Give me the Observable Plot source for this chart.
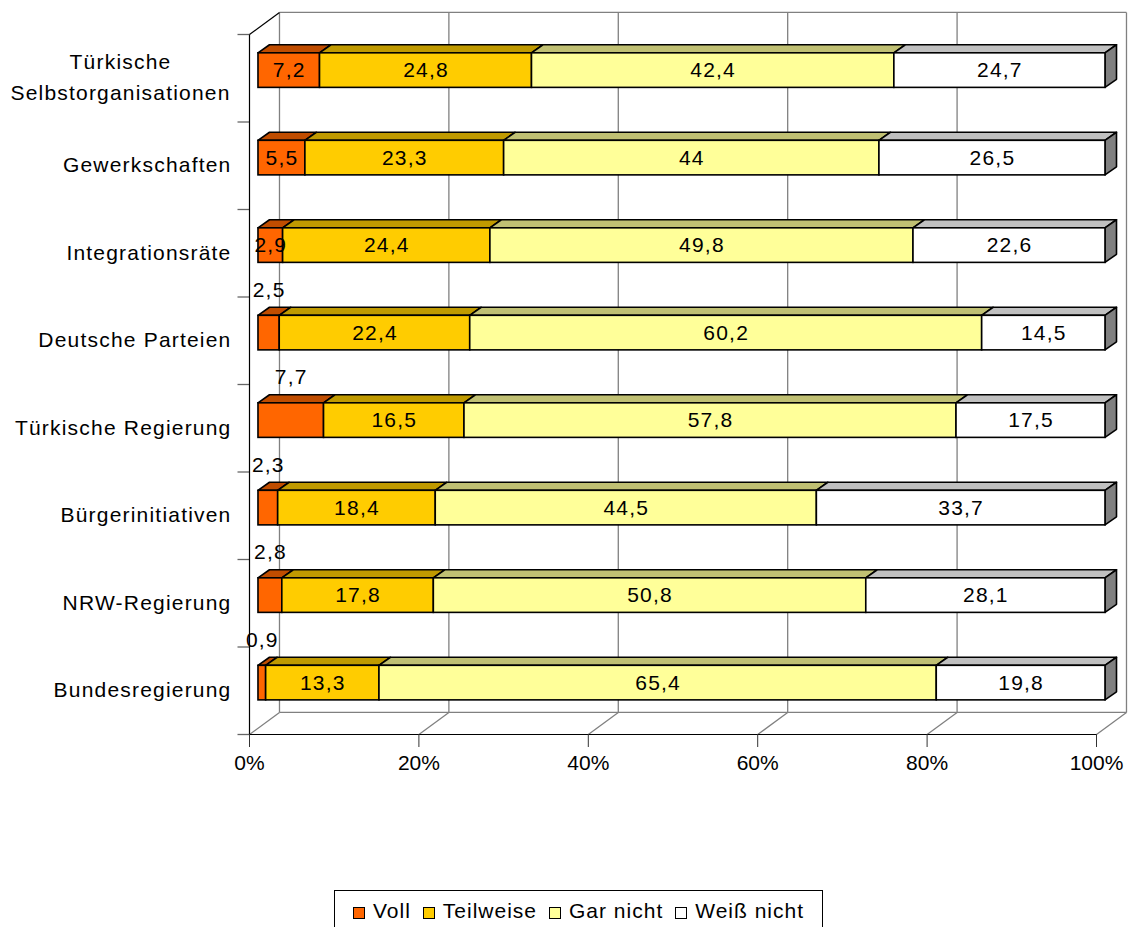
<!DOCTYPE html>
<html>
<head>
<meta charset="utf-8">
<script src="https://cdn.jsdelivr.net/npm/d3@7"></script>
<script src="https://cdn.jsdelivr.net/npm/@observablehq/plot@0.6"></script>
<style>
  body { margin: 0; background: #fff; font-family: "Liberation Sans", Arial, sans-serif; }
  #chart svg { display: block; }
  #chart svg text { letter-spacing: 1.2px; }
  #chart svg g[aria-label="x-axis tick label"] text { letter-spacing: 0; }
  #legend {
    position: absolute; left: 334px; top: 890px; width: 487px; height: 40px;
    border: 1px solid #000; display: flex; align-items: center; justify-content: center;
    font-size: 21px; letter-spacing: 1px; color: #000; box-sizing: content-box;
  }
  #legend .item { display: flex; align-items: center; margin: 0 6px; white-space: nowrap; }
  #legend .sw { width: 10px; height: 10px; border: 1px solid #000; margin-right: 8px; margin-top: 3px; }
</style>
</head>
<body>
<div id="chart"></div>
<div id="legend"></div>
<script>
// ---- data ----
const categories = [
  "Türkische\nSelbstorganisationen",
  "Gewerkschaften",
  "Integrationsräte",
  "Deutsche Parteien",
  "Türkische Regierung",
  "Bürgerinitiativen",
  "NRW-Regierung",
  "Bundesregierung"
];
const voll       = [7.2, 5.5, 2.9, 2.5, 7.7, 2.3, 2.8, 0.9];
const teilweise  = [24.8, 23.3, 24.4, 22.4, 16.5, 18.4, 17.8, 13.3];
const garNicht   = [42.4, 44, 49.8, 60.2, 57.8, 44.5, 50.8, 65.4];
const weissNicht = [24.7, 26.5, 22.6, 14.5, 17.5, 33.7, 28.1, 19.8];
const seriesNames = ["Voll", "Teilweise", "Gar nicht", "Weiß nicht"];
const xTicks = [0, 20, 40, 60, 80, 100];
// Voll labels that the original places above the bar
const vollLabelAbove = ["Deutsche Parteien", "Türkische Regierung", "Bürgerinitiativen", "NRW-Regierung", "Bundesregierung"];

// ---- styles ----
const frontColors = ["#FF6600", "#FFCC00", "#FFFF99", "#FFFFFF"];
const topColors   = ["#C04D00", "#C09A00", "#C0C073", "#C0C0C0"];
const sideColor = "#808080";
const wallColor = "#808080";

// 3D geometry (in scale units)
const BX = 1.06, DDX = 1.36, DDY = 0.092;   // bar front offset and bar depth
const WDX = 3.54, WDY = 0.252;              // wall depth
const FT = 0.215, FB = 0.61;                // bar front face top/bottom within row
const TICKLEN = 12 / 8.47;

// ---- stacking (100% normalized) ----
const seriesValues = [voll, teilweise, garNicht, weissNicht];
const segs = [];
categories.forEach((c, i) => {
  const vals = seriesValues.map(s => s[i]);
  const total = d3.sum(vals);
  let acc = 0;
  vals.forEach((v, k) => {
    const x1 = acc / total * 100; acc += v; const x2 = acc / total * 100;
    segs.push({cat: c, i, k, value: v, x1, x2});
  });
});
const fmt = v => String(v).replace(".", ",");

const topPts = segs.flatMap(s => [
  {id: s.i + "-" + s.k, k: s.k, y: s.i + FT, x1: s.x1 + BX, x2: s.x2 + BX},
  {id: s.i + "-" + s.k, k: s.k, y: s.i + FT - DDY, x1: s.x1 + BX + DDX, x2: s.x2 + BX + DDX}
]);
const sidePts = categories.flatMap((c, i) => [
  {i, x: 100 + BX, y1: i + FB, y2: i + FT},
  {i, x: 100 + BX + DDX, y1: i + FB - DDY, y2: i + FT - DDY}
]);

const isAbove = s => s.k === 0 && vollLabelAbove.includes(s.cat);
const insideLabels = segs.filter(s => !isAbove(s));
const aboveLabels = segs.filter(isAbove);

const wallLines = [
  ...xTicks.map(t => ({x1: t + WDX, y1: -WDY, x2: t + WDX, y2: 8 - WDY})),
  {x1: WDX, y1: -WDY, x2: 100 + WDX, y2: -WDY},
  {x1: WDX, y1: 8 - WDY, x2: 100 + WDX, y2: 8 - WDY},
  ...xTicks.map(t => ({x1: t, y1: 8, x2: t + WDX, y2: 8 - WDY}))
];
const catTicks = d3.range(categories.length + 1).map(y => ({x1: -TICKLEN, x2: 0, y}));
const axisLines = [
  {x1: 0, y1: 0, x2: 0, y2: 8},
  {x1: 0, y1: 8, x2: 100, y2: 8},
  {x1: 0, y1: 0, x2: WDX, y2: -WDY}
];

const marks = [
  Plot.link(wallLines, {x1: "x1", y1: "y1", x2: "x2", y2: "y2", stroke: wallColor, strokeWidth: 1.3}),
  Plot.link(catTicks, {x1: "x1", x2: "x2", y1: "y", y2: "y", stroke: "#666", strokeWidth: 1.3}),
  Plot.link(axisLines, {x1: "x1", y1: "y1", x2: "x2", y2: "y2", stroke: "#000", strokeWidth: 1.2}),
  Plot.axisX(xTicks, {tickFormat: d => d + "%", tickSize: 13, tickPadding: 8, fontSize: 21, stroke: "#333", label: null})
];
seriesNames.forEach((name, k) => {
  marks.push(Plot.areaX(topPts.filter(d => d.k === k), {
    y: "y", x1: "x1", x2: "x2", z: "id", fill: topColors[k], stroke: "#000", strokeWidth: 1.6, curve: "linear"
  }));
});
marks.push(Plot.areaY(sidePts, {x: "x", y1: "y1", y2: "y2", z: "i", fill: sideColor, stroke: "#000", strokeWidth: 1.6, curve: "linear"}));
seriesNames.forEach((name, k) => {
  marks.push(Plot.rect(segs.filter(s => s.k === k), {
    x1: d => d.x1 + BX, x2: d => d.x2 + BX, y1: d => d.i + FT, y2: d => d.i + FB,
    fill: frontColors[k], stroke: "#000", strokeWidth: 1.6
  }));
});
marks.push(Plot.text(insideLabels, {
  x: d => (d.x1 + d.x2) / 2 + BX, y: d => d.i + (FT + FB) / 2, text: d => fmt(d.value), fontSize: 21, fill: "#000"
}));
marks.push(Plot.text(aboveLabels, {
  x: d => (d.x1 + d.x2) / 2 + BX, y: d => d.i - 0.08, text: d => fmt(d.value), fontSize: 21, fill: "#000"
}));
const singleCats = categories.filter(c => !c.includes("\n"));
const multiCats = categories.filter(c => c.includes("\n"));
marks.push(Plot.text(singleCats, {
  x: 0, y: d => categories.indexOf(d) + 0.5, text: d => d, textAnchor: "end", dx: -18, fontSize: 21, fill: "#000"
}));
marks.push(Plot.text(multiCats, {
  x: 0, y: d => categories.indexOf(d) + 0.5, text: d => d, textAnchor: "middle", dx: -129, dy: -4, lineHeight: 1.5, fontSize: 21, fill: "#000"
}));

const chart = Plot.plot({
  width: 1130,
  height: 890,
  marginTop: 34,
  marginBottom: 156,
  marginLeft: 249,
  marginRight: 34,
  x: {domain: [0, 100]},
  y: {domain: [0, 8], reverse: true, axis: null},
  style: {fontFamily: "'Liberation Sans', Arial, sans-serif", fontSize: "21px", background: "#fff", overflow: "visible"},
  marks
});
document.getElementById("chart").append(chart);

// ---- legend ----
const legend = document.getElementById("legend");
seriesNames.forEach((name, k) => {
  const item = document.createElement("span");
  item.className = "item";
  const sw = document.createElement("span");
  sw.className = "sw";
  sw.style.background = frontColors[k];
  item.append(sw, document.createTextNode(name));
  legend.append(item);
});
</script>
</body>
</html>
